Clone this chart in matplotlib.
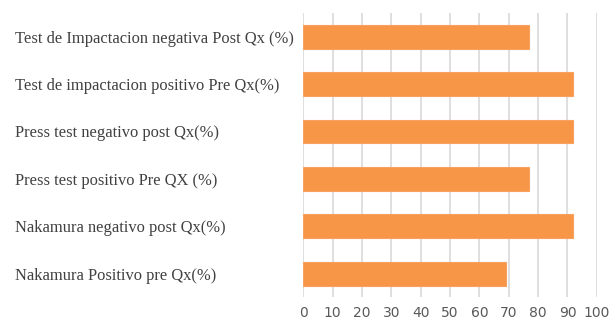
import matplotlib.pyplot as plt

labels = [
    "Test de Impactacion negativa Post Qx (%)",
    "Test de impactacion positivo Pre Qx(%)",
    "Press test negativo post Qx(%)",
    "Press test positivo Pre QX (%)",
    "Nakamura negativo post Qx(%)",
    "Nakamura Positivo pre Qx(%)",
]
values = [77, 92, 92, 77, 92, 69]
ticks = list(range(0, 101, 10))

fig = plt.figure(figsize=(6.09, 3.25), dpi=100)
ax = fig.add_axes([0.498, 0.085, 0.482, 0.875])

ypos = list(range(len(labels)))[::-1]
ax.barh(ypos, values, height=0.5, color="#F79646", edgecolor="#F8A15E",
        linewidth=0.8, zorder=3)

ax.set_xlim(0, 100)
ax.set_ylim(-0.5, len(labels) - 0.5)
ax.set_xticks(ticks)
ax.xaxis.grid(True, color="#D9D9D9", linewidth=1.2, zorder=0)
ax.set_yticks(ypos)
ax.set_yticklabels(labels, fontfamily="Liberation Serif", fontsize=11.9,
                   color="#404040")
# left-align the category labels near the figure edge (x ~ 15 px)
ax.tick_params(axis="y", length=0, pad=(303 - 15) * 0.72)
for lab in ax.get_yticklabels():
    lab.set_horizontalalignment("left")
ax.tick_params(axis="x", length=0, labelsize=10, labelcolor="#595959", pad=6)
for s in ax.spines.values():
    s.set_visible(False)

fig.savefig("out.png", dpi=100)
